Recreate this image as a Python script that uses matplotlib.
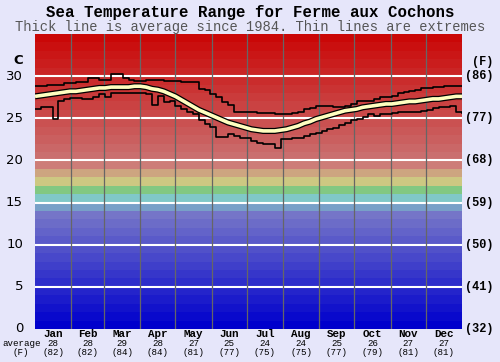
import matplotlib
matplotlib.use('Agg')
import matplotlib.pyplot as plt
import numpy as np
from matplotlib.transforms import blended_transform_factory

months = ['Jan', 'Feb', 'Mar', 'Apr', 'May', 'Jun', 'Jul', 'Aug', 'Sep', 'Oct', 'Nov', 'Dec']
month_days = [31, 28, 31, 30, 31, 30, 31, 31, 30, 31, 30, 31]
avg_c_month = [28, 28, 29, 28, 27, 25, 24, 24, 25, 26, 27, 27]
avg_f_month = [82, 82, 84, 84, 81, 77, 75, 75, 77, 79, 81, 81]
c_ticks = [0, 5, 10, 15, 20, 25, 30]
f_labels = ['(32)', '(41)', '(50)', '(59)', '(68)', '(77)', '(86)']

# day of year every 5 days
days = list(range(0, 366, 5))
avg_temp = [27.6, 27.7, 27.8, 27.9, 28.0, 28.1, 28.2, 28.2, 28.3, 28.4,
            28.5, 28.6, 28.6, 28.7, 28.7, 28.7, 28.7, 28.8, 28.8, 28.7,
            28.5, 28.4, 28.2, 27.9, 27.6, 27.2, 26.8, 26.4, 26.0, 25.7,
            25.4, 25.1, 24.8, 24.5, 24.3, 24.1, 23.9, 23.7, 23.6, 23.5,
            23.5, 23.5, 23.6, 23.7, 23.9, 24.1, 24.4, 24.6, 24.9, 25.1,
            25.3, 25.5, 25.7, 25.9, 26.0, 26.1, 26.3, 26.4, 26.5, 26.6,
            26.7, 26.7, 26.8, 26.9, 27.0, 27.0, 27.1, 27.2, 27.3, 27.3,
            27.4, 27.5, 27.6, 27.6]
max_temp = [28.8, 28.8, 28.9, 28.9, 29.0, 29.2, 29.2, 29.3, 29.3, 29.8,
            29.8, 29.6, 29.6, 30.2, 30.2, 29.8, 29.6, 29.4, 29.4, 29.6,
            29.5, 29.5, 29.4, 29.4, 29.4, 29.3, 29.3, 29.3, 28.5, 28.3,
            27.9, 27.5, 26.9, 26.6, 25.8, 25.8, 25.7, 25.7, 25.6, 25.6,
            25.6, 25.5, 25.5, 25.5, 25.6, 25.8, 26.1, 26.2, 26.4, 26.4,
            26.4, 26.3, 26.3, 26.5, 26.7, 27.0, 27.0, 27.0, 27.3, 27.5,
            27.5, 27.7, 28.0, 28.1, 28.2, 28.4, 28.6, 28.6, 28.7, 28.7,
            28.8, 28.8, 28.8, 28.8]
min_temp = [26.1, 26.3, 26.3, 24.9, 27.0, 27.3, 27.4, 27.4, 27.3, 27.3,
            27.5, 27.9, 27.5, 28.0, 28.0, 28.0, 28.0, 28.0, 28.0, 27.9,
            26.6, 27.6, 26.9, 27.0, 26.4, 26.1, 25.7, 25.5, 24.8, 24.3,
            24.0, 22.8, 22.8, 23.1, 22.9, 22.7, 22.7, 22.3, 22.1, 22.0,
            21.9, 21.5, 22.5, 22.5, 22.7, 22.7, 22.9, 23.1, 23.3, 23.5,
            23.7, 23.9, 24.2, 24.5, 24.8, 24.9, 25.1, 25.5, 25.3, 25.5,
            25.5, 25.6, 25.7, 25.7, 25.8, 25.8, 25.9, 26.0, 26.2, 26.3,
            26.3, 26.4, 25.7, 25.6]

W, H = 500, 362
bg = '#e6e6fa'
fig = plt.figure(figsize=(W / 100, H / 100), dpi=100, facecolor=bg)
ax = fig.add_axes([35 / W, 1 - 329 / H, 427 / W, 295 / H])
ax.set_xlim(0, 365)
ax.set_ylim(0, 35)
ax.set_axis_off()

# background temperature bands (1 degree each)
def band_color(k):
    if k <= 13:
        v = 9 * k
        return (v / 255, v / 255, (204 - 0.3 * k) / 255)
    special = {14: (120, 160, 200), 15: (128, 200, 200), 16: (130, 200, 130),
               17: (205, 200, 130), 18: (205, 165, 128), 19: (205, 125, 120)}
    if k in special:
        r, g, b = special[k]
        return (r / 255, g / 255, b / 255)
    v = 110 * (35 - k) / 15
    return (202 / 255, v / 255, v / 255)

for k in range(35):
    ax.axhspan(k, k + 1, color=band_color(k), lw=0, zorder=0)

# white horizontal lines
for t in c_ticks[1:]:
    ax.axhline(t, color='white', lw=1.5, zorder=1)

# month gridlines
bounds = np.cumsum([0] + month_days)
for b in bounds[1:-1]:
    ax.axvline(b, color='#666666', lw=0.9, zorder=1)

ax.plot(days, max_temp, color='black', lw=1.2, drawstyle='steps-post', zorder=3)
ax.plot(days, min_temp, color='black', lw=1.2, drawstyle='steps-post', zorder=3)
ax.plot(days, avg_temp, color='black', lw=4.4, zorder=4, solid_capstyle='butt')
ax.plot(days, avg_temp, color='#ffffc0', lw=2.6, zorder=5, solid_capstyle='butt')

# title
mono = 'Liberation Mono'
fig.text(0.5, 1 - 12 / H, 'Sea Temperature Range for Ferme aux Cochons',
         family=mono, weight='bold', fontsize=11.3, ha='center', va='center')
fig.text(0.5, 1 - 27 / H, 'Thick line is average since 1984. Thin lines are extremes',
         family=mono, fontsize=9.9, ha='center', va='center', color='#555555')

# left / right axis labels
tl = blended_transform_factory(fig.transFigure, ax.transData)
for t, fl in zip(c_ticks, f_labels):
    fig.text(23 / W, t, str(t), transform=tl, ha='right', va='center',
             family='DejaVu Sans', fontsize=9.5)
    fig.text(465 / W, t, fl, transform=tl, ha='left', va='center',
             family=mono, weight='bold', fontsize=8.6)
fig.text(18 / W, 1 - 61 / H, 'C', ha='center', va='center',
         family='DejaVu Sans', fontsize=9.5, weight='bold')
fig.text(483 / W, 1 - 62 / H, '(F)', ha='center', va='center',
         family=mono, weight='bold', fontsize=8.6)

# bottom month labels
tb = blended_transform_factory(ax.transData, fig.transFigure)
centers = (bounds[:-1] + bounds[1:]) / 2
for c, m, ac, af in zip(centers, months, avg_c_month, avg_f_month):
    fig.text(c, 1 - 334 / H, m, transform=tb, ha='center', va='center',
             family=mono, weight='bold', fontsize=7.8)
    fig.text(c, 1 - 343.5 / H, str(ac), transform=tb, ha='center', va='center',
             family=mono, fontsize=6.6)
    fig.text(c, 1 - 352.5 / H, '(%d)' % af, transform=tb, ha='center', va='center',
             family=mono, fontsize=6.6)
fig.text(22 / W, 1 - 343.5 / H, 'average', ha='center', va='center',
         family=mono, fontsize=6.6)
fig.text(21 / W, 1 - 352.5 / H, '(F)', ha='center', va='center',
         family=mono, fontsize=6.6)

fig.savefig('out.png', dpi=100, facecolor=bg)
